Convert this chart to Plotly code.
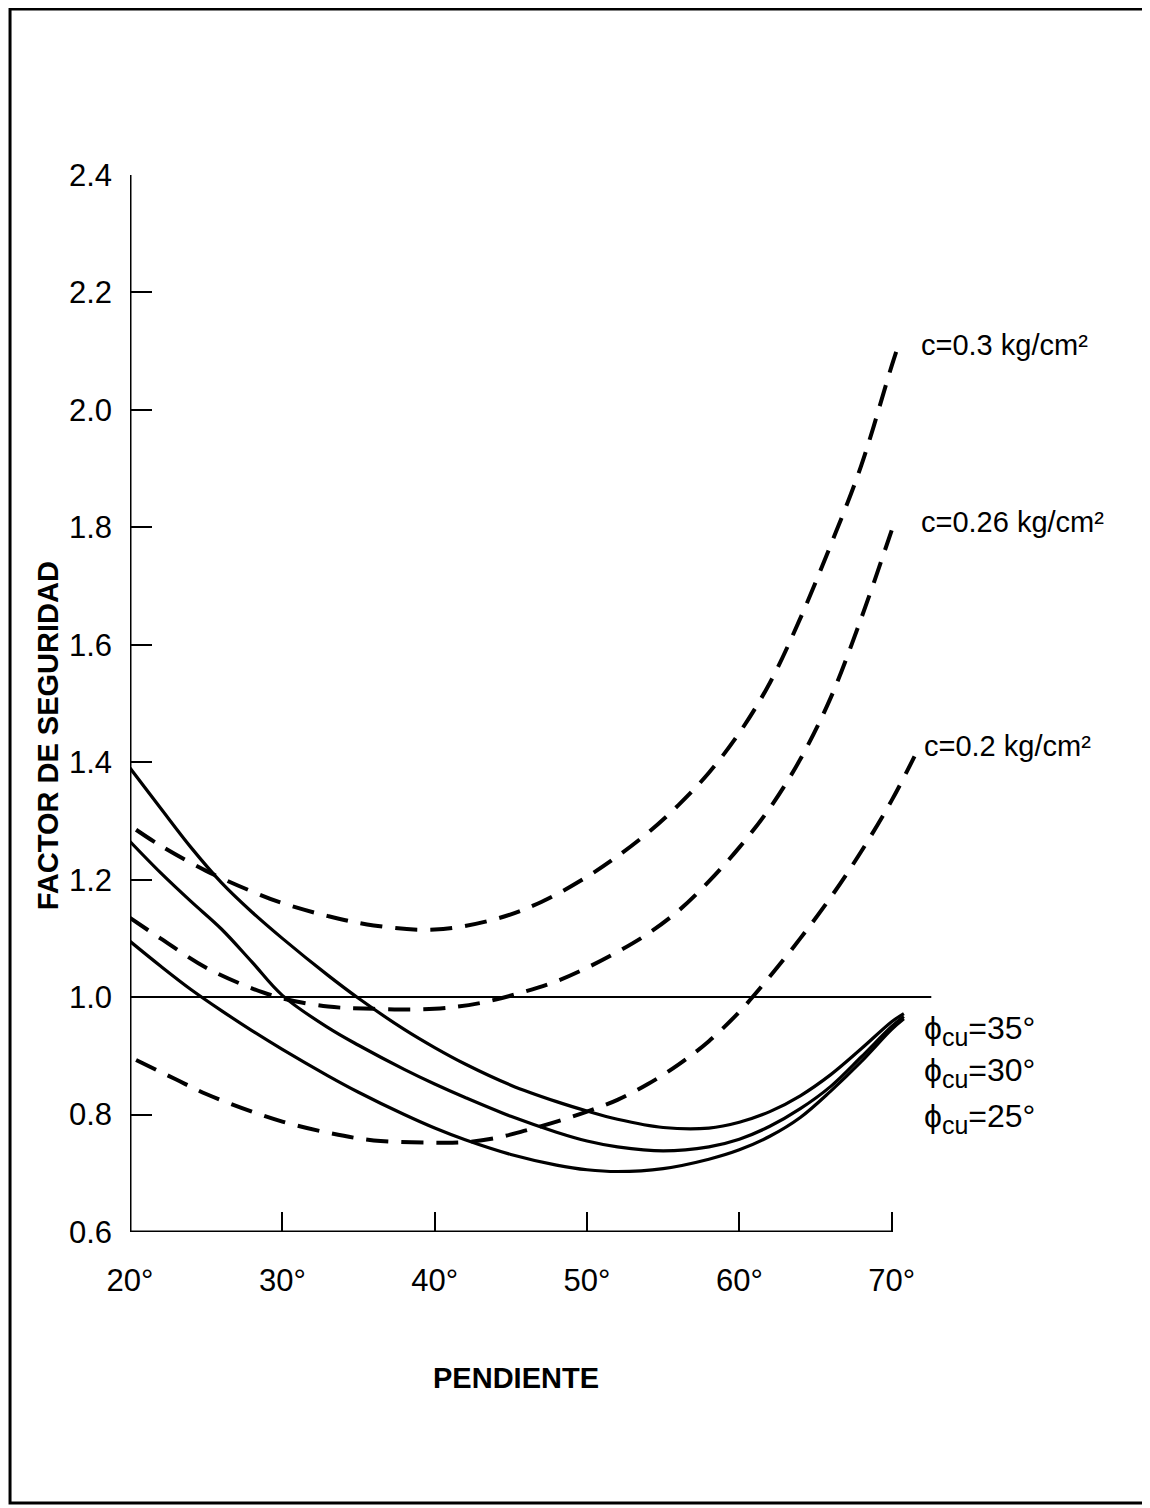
import plotly.graph_objects as go

# ---------------- data ----------------
slope_phi = [20, 22, 24, 26, 28, 30, 33, 35, 38, 40, 42, 45, 48, 50, 52, 55, 58, 60, 62, 64, 66, 68, 70, 70.8]
fs_phi35 = [1.39, 1.322, 1.255, 1.195, 1.145, 1.10, 1.037, 0.998, 0.945, 0.914, 0.886, 0.85, 0.822, 0.806,
            0.792, 0.778, 0.777, 0.787, 0.805, 0.832, 0.868, 0.912, 0.958, 0.972]
fs_phi30 = [1.265, 1.212, 1.163, 1.116, 1.06, 1.003, 0.948, 0.918, 0.877, 0.852, 0.829, 0.797, 0.77, 0.755,
            0.745, 0.738, 0.745, 0.758, 0.78, 0.81, 0.848, 0.898, 0.95, 0.967]
fs_phi25 = [1.095, 1.053, 1.013, 0.977, 0.943, 0.911, 0.866, 0.838, 0.80, 0.777, 0.757, 0.732, 0.714, 0.706,
            0.703, 0.708, 0.724, 0.74, 0.763, 0.795, 0.84, 0.89, 0.945, 0.963]

slope_c03 = [20.4, 22, 25, 28, 30, 33, 36, 40, 44, 47, 50, 52, 54, 56, 58, 60, 62, 64, 66, 68, 70, 70.5]
fs_c03 = [1.285, 1.258, 1.215, 1.18, 1.16, 1.138, 1.122, 1.115, 1.133, 1.162, 1.205, 1.24, 1.28, 1.327,
          1.382, 1.45, 1.535, 1.645, 1.77, 1.905, 2.075, 2.115]

slope_c026 = [20, 22, 25, 28, 30, 33, 36, 40, 43, 46, 48, 50, 52, 54, 56, 58, 60, 62, 64, 66, 68, 70]
fs_c026 = [1.135, 1.10, 1.05, 1.015, 0.998, 0.984, 0.98, 0.98, 0.99, 1.01, 1.027, 1.05, 1.077, 1.108,
           1.147, 1.197, 1.255, 1.322, 1.405, 1.51, 1.645, 1.795]

slope_c02 = [20.4, 23, 25, 28, 30, 33, 36, 40, 42, 44, 46, 48, 50, 52, 54, 56, 58, 60, 62, 64, 66, 68, 70, 71.5]
fs_c02 = [0.893, 0.86, 0.835, 0.805, 0.788, 0.769, 0.756, 0.752, 0.753, 0.76, 0.773, 0.788, 0.805, 0.825,
          0.852, 0.885, 0.925, 0.975, 1.035, 1.10, 1.17, 1.248, 1.335, 1.41]

ref_x = [20, 72.6]
ref_y = [1.0, 1.0]

x_ticks = [20, 30, 40, 50, 60, 70]
x_tick_labels = ["20°", "30°", "40°", "50°", "60°", "70°"]
y_ticks = [0.6, 0.8, 1.0, 1.2, 1.4, 1.6, 1.8, 2.0, 2.2, 2.4]
y_tick_labels = ["0.6", "0.8", "1.0", "1.2", "1.4", "1.6", "1.8", "2.0", "2.2", "2.4"]

c_labels = ["c=0.3 kg/cm²", "c=0.26 kg/cm²", "c=0.2 kg/cm²"]
c_label_x = [71.8, 71.8, 72.0]
c_label_y = [2.11, 1.809, 1.428]
SUB = '<sub><span style="font-size:25px">cu</span></sub>'
phi_labels = ["ϕ" + SUB + "=35°", "ϕ" + SUB + "=30°", "ϕ" + SUB + "=25°"]
phi_label_x = [72.0, 72.0, 72.0]
phi_label_y = [0.944, 0.871, 0.794]

# ---------------- figure ----------------
FONT = "Liberation Sans, Arial, sans-serif"
fig = go.Figure()

solid = dict(color="black", width=3.2)
dashed = dict(color="black", width=4, dash="22px,13px")

fig.add_trace(go.Scatter(x=ref_x, y=ref_y, mode="lines", line=dict(color="black", width=2)))
for ys in (fs_phi35, fs_phi30, fs_phi25):
    fig.add_trace(go.Scatter(x=slope_phi, y=ys, mode="lines", line=dict(**solid, shape="spline", smoothing=1)))
for xs, ys in ((slope_c03, fs_c03), (slope_c026, fs_c026), (slope_c02, fs_c02)):
    fig.add_trace(go.Scatter(x=xs, y=ys, mode="lines", line=dict(**dashed, shape="spline", smoothing=1)))

for t, lx, ly in zip(c_labels, c_label_x, c_label_y):
    fig.add_annotation(x=lx, y=ly, text=t, showarrow=False, xanchor="left", yanchor="middle",
                       font=dict(family=FONT, size=29, color="black"))
for t, lx, ly in zip(phi_labels, phi_label_x, phi_label_y):
    fig.add_annotation(x=lx, y=ly, text=t, showarrow=False, xanchor="left", yanchor="middle",
                       font=dict(family=FONT, size=32, color="black"))

# axis titles
fig.add_annotation(xref="paper", yref="paper", x=-0.1006, y=0.469, text="<b>FACTOR DE SEGURIDAD</b>",
                   textangle=-90, showarrow=False, xanchor="center", yanchor="middle",
                   font=dict(family=FONT, size=29, color="black"))
fig.add_annotation(xref="paper", yref="paper", x=0.4736, y=-0.138, text="<b>PENDIENTE</b>",
                   showarrow=False, xanchor="center", yanchor="middle",
                   font=dict(family=FONT, size=29, color="black"))

# axis lines (x axis stops at 70°)
fig.add_shape(type="line", xref="x", yref="y", x0=x_ticks[0], x1=x_ticks[-1], y0=y_ticks[0], y1=y_ticks[0],
              line=dict(color="black", width=3))
fig.add_shape(type="line", xref="x", yref="y", x0=x_ticks[0], x1=x_ticks[0], y0=y_ticks[0], y1=y_ticks[-1],
              line=dict(color="black", width=3))

# outer frame
fig.add_shape(type="rect", xref="paper", yref="paper", x0=-0.1472, x1=1.2454, y0=-0.2564, y1=1.157,
              line=dict(color="black", width=3))

# page body has an 8px margin; the figure is sized so the plot area lands where the reference has it
fig.update_layout(
    width=1142, height=1500,
    margin=dict(l=122, r=205, t=167, b=276),
    paper_bgcolor="white", plot_bgcolor="white",
    showlegend=False,
    font=dict(family=FONT, color="black"),
)
fig.update_xaxes(range=[20, 73.5], showgrid=False, zeroline=False, showline=False,
                 tickmode="array", tickvals=x_ticks, ticktext=x_tick_labels,
                 ticks="inside", ticklen=20, tickwidth=2, tickcolor="black",
                 tickfont=dict(family=FONT, size=31, color="black"), ticklabelstandoff=27)
fig.update_yaxes(range=[0.6, 2.4], showgrid=False, zeroline=False, showline=False,
                 tickmode="array", tickvals=y_ticks, ticktext=y_tick_labels,
                 ticks="inside", ticklen=22, tickwidth=2, tickcolor="black",
                 tickfont=dict(family=FONT, size=31, color="black"), ticklabelstandoff=17)

fig.write_html("out.html")
